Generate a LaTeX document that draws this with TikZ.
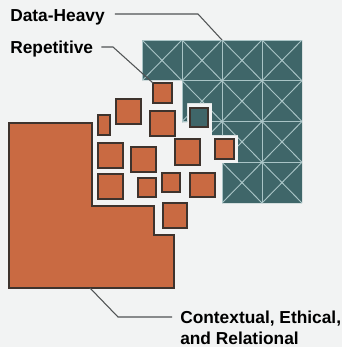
\documentclass[tikz,border=0pt]{standalone}
\usepackage{fontspec}
\setmainfont{Liberation Sans}
\usepackage{xcolor}
\usetikzlibrary{positioning}
\definecolor{tealblock}{HTML}{3F6669}
\definecolor{tealline}{HTML}{A9C4C6}
\definecolor{rust}{HTML}{C96A42}
\definecolor{rustedge}{HTML}{3E332D}
\definecolor{paper}{HTML}{F2F3F3}
\definecolor{leadgray}{HTML}{505354}

\begin{document}
\begin{tikzpicture}[x=0.75pt, y=-0.75pt, font=\fontsize{13}{15.75}\selectfont\bfseries,
  tile/.style={fill=rust, draw=rustedge, line width=0.8pt},
  gridline/.style={draw=tealline, line width=0.7pt},
  leader/.style={draw=leadgray, line width=0.8pt},
  tag/.style={inner sep=0pt, align=left}]
\fill[paper] (0,0) rectangle (342,347);
\useasboundingbox (0,0) rectangle (342,347);
\def\cw{40}
\def\ch{40.75}
\def\datashape{(142,40) -- (302,40) -- (302,203) -- (222,203) -- (222,163) -- (238,163) -- (238,135)
  -- (212,135) -- (212,103) -- (187,103) -- (187,122) -- (182,122) -- (182,80) -- (142,80) -- cycle}
% data-heavy block: teal grid of crossed cells
\fill[tealblock] \datashape;
\begin{scope}
  \clip \datashape;
  \foreach \c in {0,...,3} {
    \foreach \r in {0,...,3} {
      \draw[gridline] (142+\c*\cw,40+\r*\ch) rectangle ++(\cw,\ch);
      \draw[gridline] (142+\c*\cw,40+\r*\ch) -- ++(\cw,\ch);
      \draw[gridline] (142+\c*\cw+\cw,40+\r*\ch) -- ++(-\cw,\ch);
    }
  }
  \foreach \c in {1,...,3} {
    \foreach \r in {1,...,3} {
      \fill[tealline] (142+\c*\cw,40+\r*\ch) circle (1.6);
    }
  }
\end{scope}
% repetitive tasks: scattered tiles
\foreach \x/\y/\wd/\ht in {153/83/19/20, 116/99/25/25, 98/115/12/20, 150/111/25/25,
    98/143/25/25, 131/147/25/25, 175/139/25/26, 215/139/19/20,
    98/174/25/25, 138/178/18/19, 162/173/18/19, 190/173/25/24, 163/203/24/25} {
  \draw[tile] (\x,\y) rectangle ++(\wd,\ht);
}
\draw[fill=tealblock, draw=rustedge, line width=0.8pt] (190,108) rectangle (208,127);
% contextual work: large stepped block
\draw[tile] (9,123) -- (92,123) -- (92,206) -- (154,206) -- (154,235) -- (174,235) -- (174,288) -- (9,288) -- cycle;
% labels and leaders
\node[tag, anchor=base west] (heavy) at (10,21) {Data-Heavy};
\coordinate (heavyknee) at (198,14);
\coordinate (heavytip) at (222,40);
\draw[leader, shorten <=7.5pt] (heavy.east |- heavyknee) -- (heavyknee) -- (heavytip);
\node[tag, anchor=base west] (repeat) at (10,53) {Repetitive};
\coordinate (repeatknee) at (113,47);
\coordinate (repeattip) at (153,83);
\draw[leader, shorten <=6pt] (repeat.east |- repeatknee) -- (repeatknee) -- (repeattip);
\node[tag, anchor=north west] (context) at (180,310.5) {Contextual, Ethical,\\and Relational};
\coordinate (contextfoot) at (90,288);
\coordinate (contextknee) at (118,317);
\draw[leader, shorten >=6pt] (contextfoot) -- (contextknee) -- (context.west |- contextknee);
\end{tikzpicture}
\end{document}
